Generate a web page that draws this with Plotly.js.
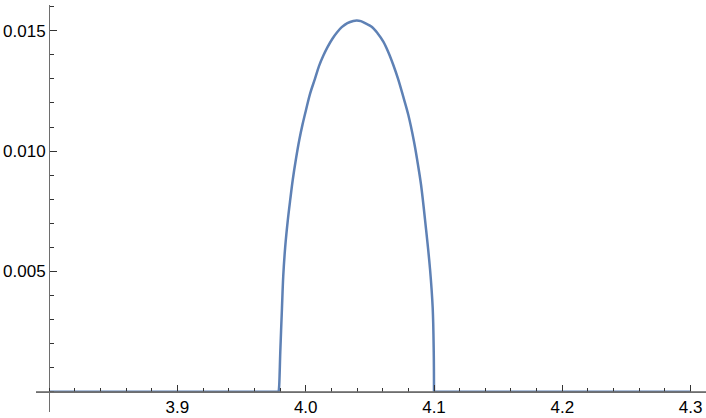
<!DOCTYPE html>
<html>
<head>
<meta charset="utf-8">
<script src="https://cdn.plot.ly/plotly-3.0.1.min.js"></script>
<style>
  html, body { margin: 0; padding: 0; background: #fff; }
  #chart { width: 706px; height: 418px; }
</style>
</head>
<body>
<div id="chart"></div>
<script>
// flat parts of the density
const flatLeftX = [3.8, 3.979];
const flatLeftY = [0, 0];
const flatRightX = [4.1, 4.3];
const flatRightY = [0, 0];

// the bump
const bumpX = [3.979, 3.9794, 3.9802, 3.9815, 3.9825, 3.984, 3.986, 3.988, 3.9899, 3.9925,
  3.995, 3.9975, 4.0002, 4.0035, 4.0072, 4.0105, 4.0137, 4.017, 4.0207, 4.0245,
  4.0281, 4.0325, 4.0371, 4.0398, 4.043, 4.047, 4.0514, 4.056, 4.0605, 4.0645,
  4.0683, 4.072, 4.0761, 4.08, 4.0844, 4.087, 4.0899, 4.0935, 4.0969, 4.099,
  4.0998, 4.1];
const bumpY = [0, 0.0003, 0.00166, 0.00347, 0.0048, 0.006, 0.0071, 0.008, 0.0088, 0.0097,
  0.01046, 0.0111, 0.0117, 0.0124, 0.013, 0.01355, 0.01396, 0.01432, 0.01466, 0.01494,
  0.01515, 0.01532, 0.01541, 0.01543, 0.0154, 0.0153, 0.01517, 0.0149, 0.01455, 0.0141,
  0.01358, 0.013, 0.01225, 0.0115, 0.0104, 0.0096, 0.0086, 0.0069, 0.0051, 0.00347,
  0.00166, 0];

const xTicks = [3.9, 4.0, 4.1, 4.2, 4.3];
const xTickText = ['3.9', '4.0', '4.1', '4.2', '4.3'];
const yTicks = [0.005, 0.01, 0.015];
const yTickText = ['0.005', '0.010', '0.015'];

const lineColor = '#5e81b5';
const lineStyle = { color: lineColor, width: 2.5 };

const traces = [
  { x: flatLeftX, y: flatLeftY, mode: 'lines', type: 'scatter', line: lineStyle },
  { x: bumpX, y: bumpY, mode: 'lines', type: 'scatter', line: Object.assign({ shape: 'spline', smoothing: 1 }, lineStyle) },
  { x: flatRightX, y: flatRightY, mode: 'lines', type: 'scatter', line: lineStyle }
];

const layout = {
  width: 706,
  height: 418,
  margin: { l: 36, r: 0, t: 5, b: 6 },
  paper_bgcolor: '#fff',
  plot_bgcolor: '#fff',
  showlegend: false,
  font: { family: 'Liberation Sans, Arial, sans-serif', size: 17, color: '#000' },
  xaxis: {
    range: [3.7898, 4.312],
    anchor: 'free',
    position: 0.0499,
    showgrid: false,
    zeroline: false,
    showline: true,
    linecolor: '#6e6e6e',
    linewidth: 1,
    tickmode: 'array',
    tickvals: xTicks,
    ticktext: xTickText,
    ticks: 'inside',
    ticklen: 7,
    tickcolor: '#333',
    tickwidth: 1,
    minor: { tickmode: 'linear', tick0: 0, dtick: 0.02, ticks: 'inside', ticklen: 4, tickcolor: '#333', showgrid: false }
  },
  yaxis: {
    range: [-0.000844, 0.016072],
    anchor: 'free',
    position: 0.0195,
    showgrid: false,
    zeroline: false,
    showline: true,
    linecolor: '#6e6e6e',
    linewidth: 1,
    tickmode: 'array',
    tickvals: yTicks,
    ticktext: yTickText,
    ticks: 'inside',
    ticklen: 7,
    tickcolor: '#333',
    tickwidth: 1,
    minor: { tickmode: 'linear', tick0: 0, dtick: 0.001, ticks: 'inside', ticklen: 4, tickcolor: '#333', showgrid: false }
  },
  shapes: [
    // horizontal axis at y = 0 across the whole frame
    { type: 'line', xref: 'paper', yref: 'y', x0: 0, x1: 1, y0: 0, y1: 0, line: { color: '#6e6e6e', width: 1 }, layer: 'above' }
  ]
};

Plotly.newPlot('chart', traces, layout, { staticPlot: true });
</script>
</body>
</html>
